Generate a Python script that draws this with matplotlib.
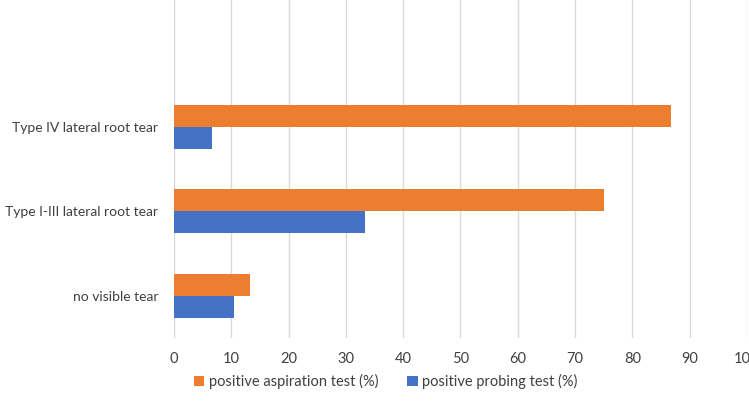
import matplotlib
matplotlib.use("Agg")
import matplotlib.pyplot as plt
from matplotlib.patches import Patch
import numpy as np

categories = ["no visible tear", "Type I-III lateral root tear", "Type IV lateral root tear"]
aspiration = [13.2, 75.0, 86.7]
probing = [10.5, 33.3, 6.7]
series_names = ["positive aspiration test (%)", "positive probing test (%)"]
xticks = [0, 10, 20, 30, 40, 50, 60, 70, 80, 90, 100]

plt.rcParams['font.family'] = ['Lato', 'DejaVu Sans']
orange = '#ED7D31'
blue = '#4472C4'
txt = '#404040'

fig = plt.figure(figsize=(7.49, 4.04), dpi=100)
ax = fig.add_axes([0.2323, 0.1634, 0.7650, 0.8366])

y = np.arange(len(categories))
h = 0.26
ax.barh(y + h / 2, aspiration, height=h, color=orange, zorder=3)
ax.barh(y - h / 2, probing, height=h, color=blue, zorder=3)

ax.set_xlim(0, 100)
ax.set_ylim(-0.5, 3.5)
ax.set_xticks(xticks)
ax.set_yticks(y)
ax.set_yticklabels(categories)
ax.grid(axis='x', color='#d9d9d9', linewidth=1.0, zorder=0)
ax.grid(axis='y', visible=False)
for s in ax.spines.values():
    s.set_visible(False)
ax.tick_params(axis='both', length=0, labelsize=10.5, labelcolor=txt)
ax.tick_params(axis='y', pad=11.5, labelsize=10.0)
ax.tick_params(axis='x', pad=10)

handles = [Patch(facecolor=orange, edgecolor='none'), Patch(facecolor=blue, edgecolor='none')]
fig.legend(handles, series_names, loc='center', bbox_to_anchor=(0.515, 0.055), ncol=2,
           frameon=False, fontsize=10.5, labelcolor=txt, handlelength=0.7, handleheight=0.7,
           handletextpad=0.3, columnspacing=2.0)

fig.savefig('out.png', dpi=100)
